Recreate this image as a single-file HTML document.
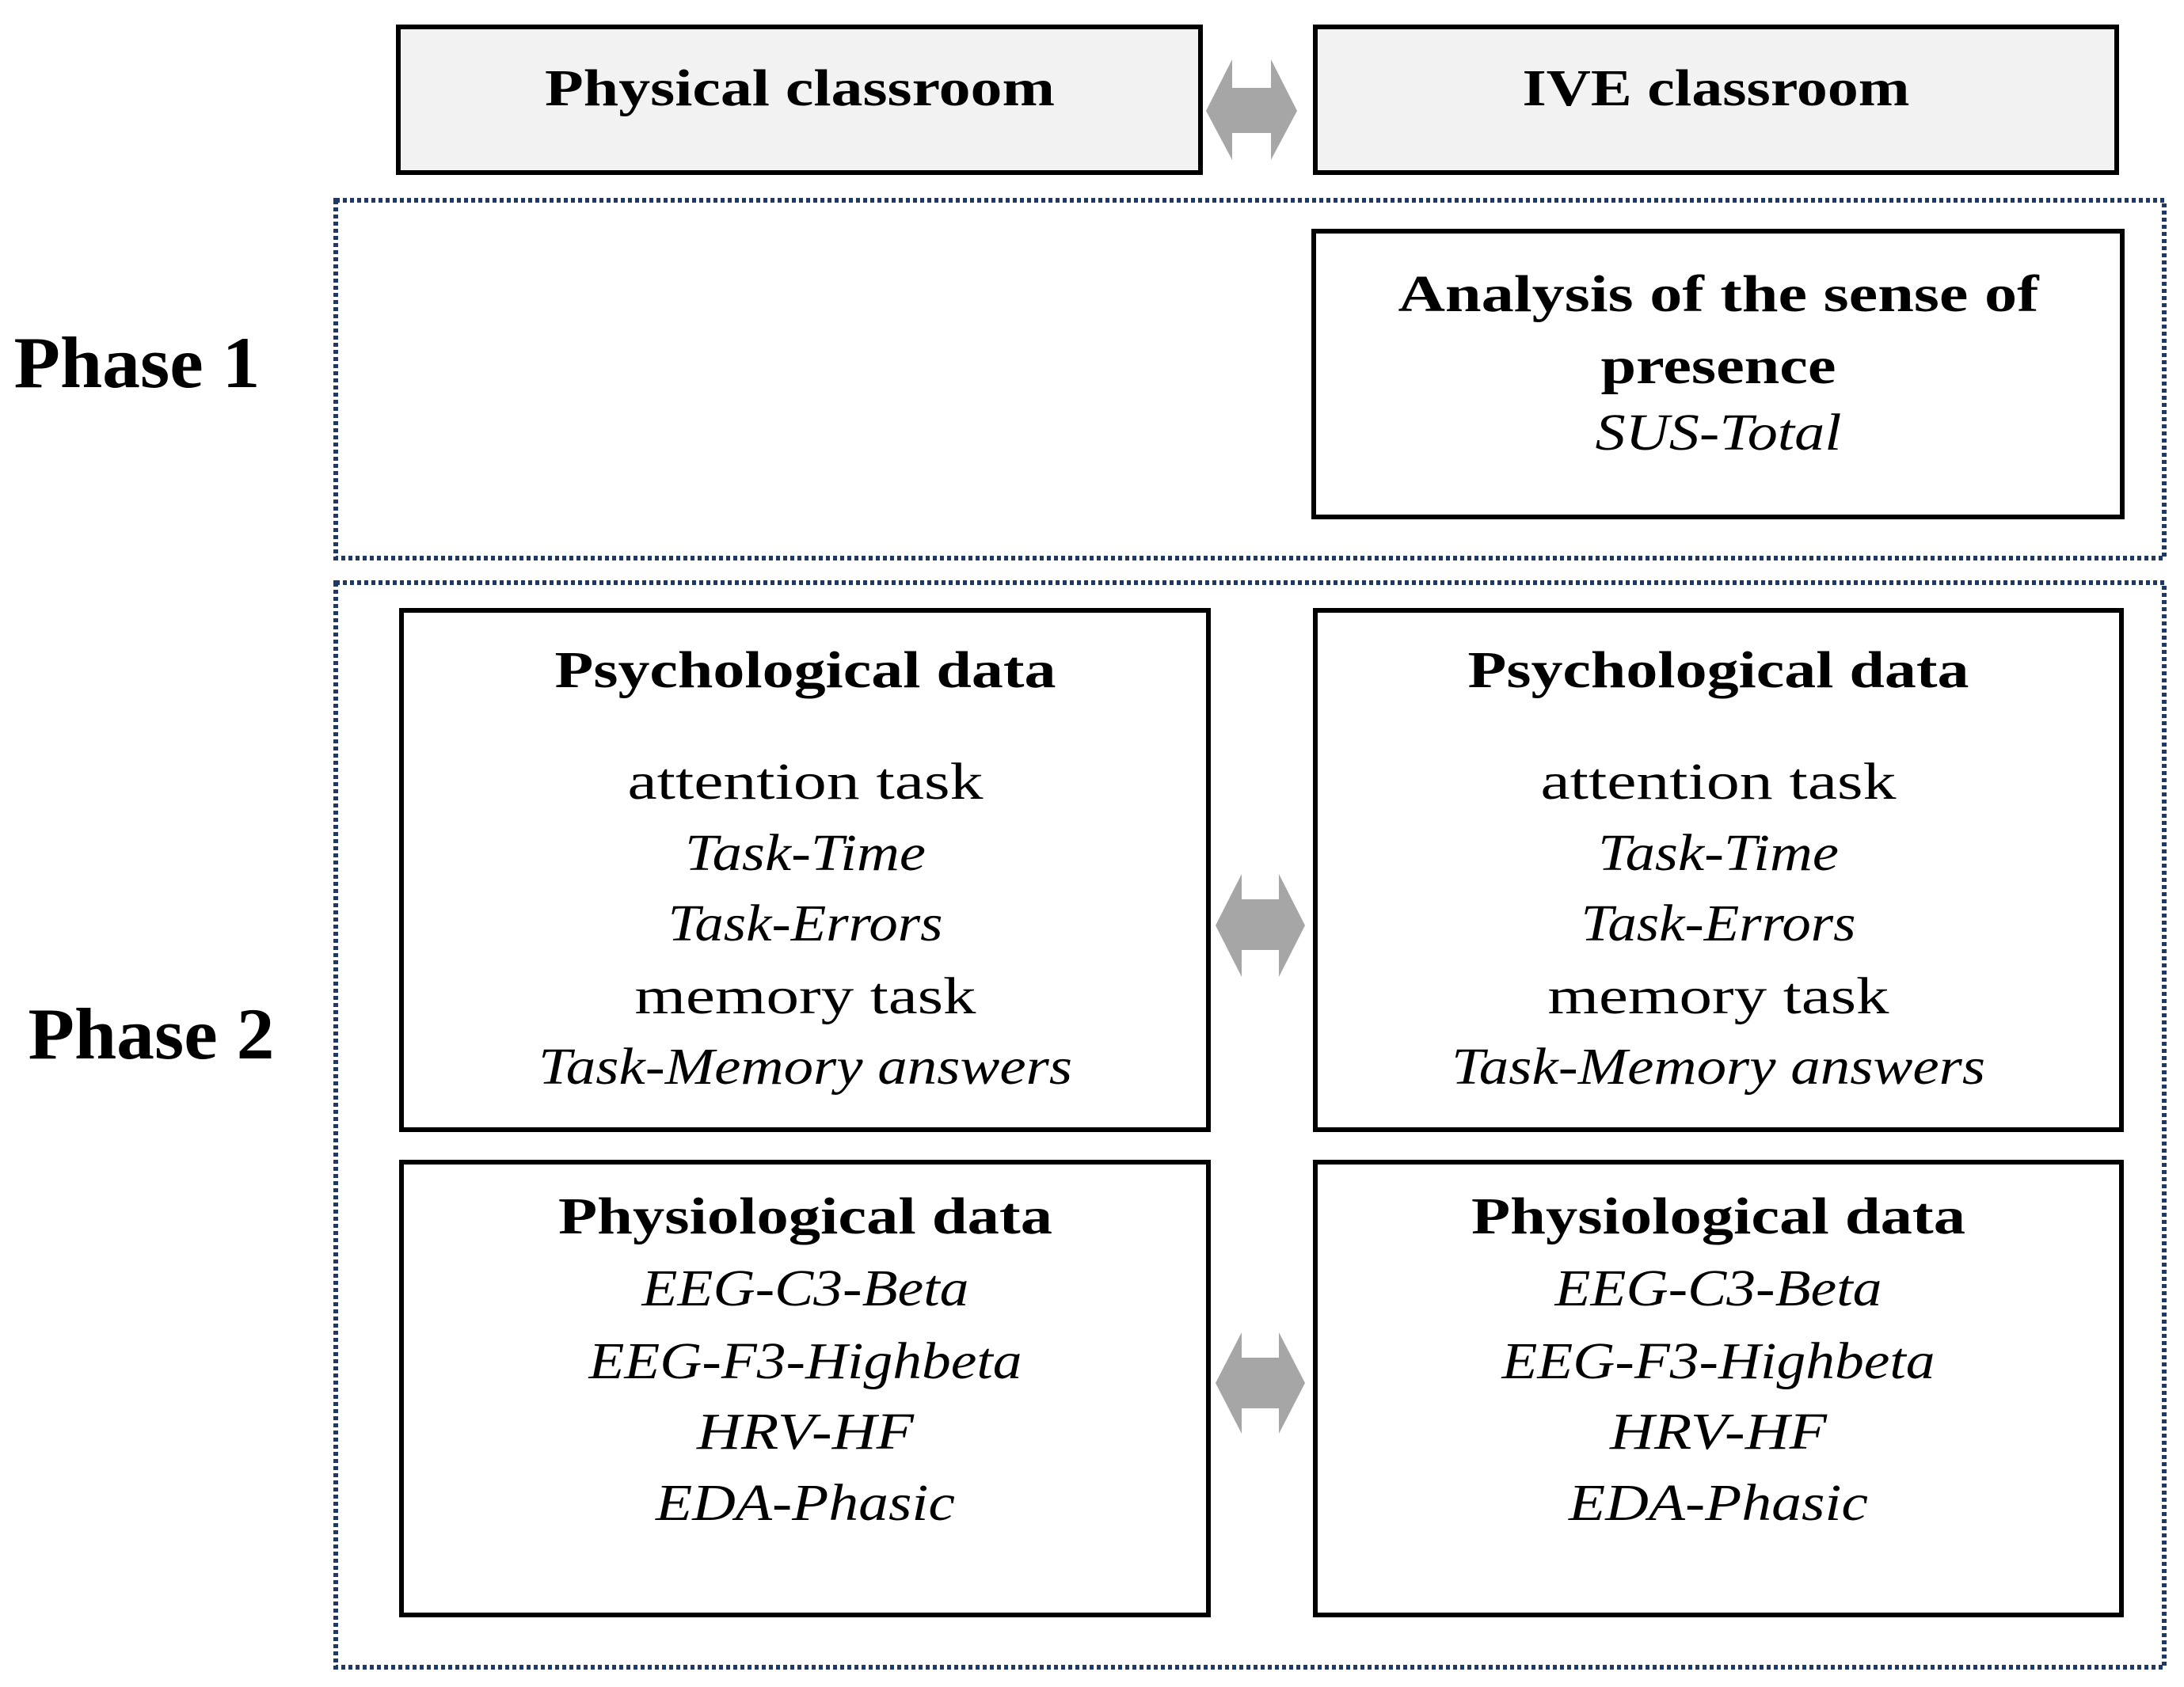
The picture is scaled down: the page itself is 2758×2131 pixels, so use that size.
<!DOCTYPE html>
<html><head><meta charset="utf-8"><style>html,body{margin:0;padding:0;background:#fff}svg{display:block}</style></head>
<body>
<svg width="2758" height="2131" viewBox="0 0 2758 2131" xmlns="http://www.w3.org/2000/svg" font-family="'Liberation Serif', serif">
<rect width="2758" height="2131" fill="#fff"/>
<!-- top boxes -->
<rect x="503" y="34" width="1013" height="184" fill="#f2f2f2" stroke="#000" stroke-width="6"/>
<rect x="1661" y="34" width="1012" height="184" fill="#f2f2f2" stroke="#000" stroke-width="6"/>
<polygon fill="#a6a6a6" points="1523,140 1556,75 1556,111 1605,111 1605,75 1638,140 1605,202 1605,168 1556,168 1556,202"/>
<!-- dotted phase boxes -->
<rect x="424" y="253" width="2309" height="452" fill="none" stroke="#1f3864" stroke-width="6" stroke-dasharray="5 4"/>
<rect x="424" y="736" width="2309" height="1370" fill="none" stroke="#1f3864" stroke-width="6" stroke-dasharray="5 4"/>
<!-- analysis box -->
<rect x="1659" y="292" width="1021" height="361" fill="#fff" stroke="#000" stroke-width="6"/>
<!-- phase 2 boxes -->
<rect x="507" y="771" width="1019" height="656" fill="#fff" stroke="#000" stroke-width="6"/>
<rect x="1661" y="771" width="1018" height="656" fill="#fff" stroke="#000" stroke-width="6"/>
<rect x="507" y="1468" width="1019" height="572" fill="#fff" stroke="#000" stroke-width="6"/>
<rect x="1661" y="1468" width="1018" height="572" fill="#fff" stroke="#000" stroke-width="6"/>
<polygon fill="#a6a6a6" points="1535,1169 1568,1104 1568,1136 1615,1136 1615,1104 1648,1169 1615,1234 1615,1200 1568,1200 1568,1234"/>
<polygon fill="#a6a6a6" points="1535,1747 1568,1683 1568,1715 1615,1715 1615,1683 1648,1747 1615,1811 1615,1779 1568,1779 1568,1811"/>
<g text-anchor="middle" fill="#000" lengthAdjust="spacingAndGlyphs">
<text x="1010" y="133" font-size="66" font-weight="bold" textLength="644" lengthAdjust="spacingAndGlyphs">Physical classroom</text>
<text x="2167" y="133" font-size="66" font-weight="bold" textLength="489" lengthAdjust="spacingAndGlyphs">IVE classroom</text>
<text x="173" y="489" font-size="92" font-weight="bold" textLength="311" lengthAdjust="spacingAndGlyphs">Phase 1</text>
<text x="191" y="1337" font-size="92" font-weight="bold" textLength="311" lengthAdjust="spacingAndGlyphs">Phase 2</text>
<text x="2170" y="393" font-size="66" font-weight="bold" textLength="809" lengthAdjust="spacingAndGlyphs">Analysis of the sense of</text>
<text x="2170" y="484" font-size="66" font-weight="bold" textLength="297" lengthAdjust="spacingAndGlyphs">presence</text>
<text x="2170" y="568" font-size="66" font-style="italic" textLength="311" lengthAdjust="spacingAndGlyphs">SUS-Total</text>
</g>
<g text-anchor="middle" fill="#000" font-size="66">
<g id="L">
<text x="1017" y="868" font-weight="bold" textLength="633" lengthAdjust="spacingAndGlyphs">Psychological data</text>
<text x="1017" y="1009" textLength="449" lengthAdjust="spacingAndGlyphs">attention task</text>
<text x="1017" y="1099" font-style="italic" textLength="304" lengthAdjust="spacingAndGlyphs">Task-Time</text>
<text x="1017" y="1188" font-style="italic" textLength="347" lengthAdjust="spacingAndGlyphs">Task-Errors</text>
<text x="1017" y="1280" textLength="431" lengthAdjust="spacingAndGlyphs">memory task</text>
<text x="1017" y="1369" font-style="italic" textLength="674" lengthAdjust="spacingAndGlyphs">Task-Memory answers</text>
<text x="1017" y="1558" font-weight="bold" textLength="624" lengthAdjust="spacingAndGlyphs">Physiological data</text>
<text x="1017" y="1649" font-style="italic" textLength="413" lengthAdjust="spacingAndGlyphs">EEG-C3-Beta</text>
<text x="1017" y="1741" font-style="italic" textLength="547" lengthAdjust="spacingAndGlyphs">EEG-F3-Highbeta</text>
<text x="1017" y="1830" font-style="italic" textLength="274" lengthAdjust="spacingAndGlyphs">HRV-HF</text>
<text x="1017" y="1920" font-style="italic" textLength="378" lengthAdjust="spacingAndGlyphs">EDA-Phasic</text>
</g>
<g>
<text x="2170" y="868" font-weight="bold" textLength="633" lengthAdjust="spacingAndGlyphs">Psychological data</text>
<text x="2170" y="1009" textLength="449" lengthAdjust="spacingAndGlyphs">attention task</text>
<text x="2170" y="1099" font-style="italic" textLength="304" lengthAdjust="spacingAndGlyphs">Task-Time</text>
<text x="2170" y="1188" font-style="italic" textLength="347" lengthAdjust="spacingAndGlyphs">Task-Errors</text>
<text x="2170" y="1280" textLength="431" lengthAdjust="spacingAndGlyphs">memory task</text>
<text x="2170" y="1369" font-style="italic" textLength="674" lengthAdjust="spacingAndGlyphs">Task-Memory answers</text>
<text x="2170" y="1558" font-weight="bold" textLength="624" lengthAdjust="spacingAndGlyphs">Physiological data</text>
<text x="2170" y="1649" font-style="italic" textLength="413" lengthAdjust="spacingAndGlyphs">EEG-C3-Beta</text>
<text x="2170" y="1741" font-style="italic" textLength="547" lengthAdjust="spacingAndGlyphs">EEG-F3-Highbeta</text>
<text x="2170" y="1830" font-style="italic" textLength="274" lengthAdjust="spacingAndGlyphs">HRV-HF</text>
<text x="2170" y="1920" font-style="italic" textLength="378" lengthAdjust="spacingAndGlyphs">EDA-Phasic</text>
</g>
</g>
</svg>
</body></html>
